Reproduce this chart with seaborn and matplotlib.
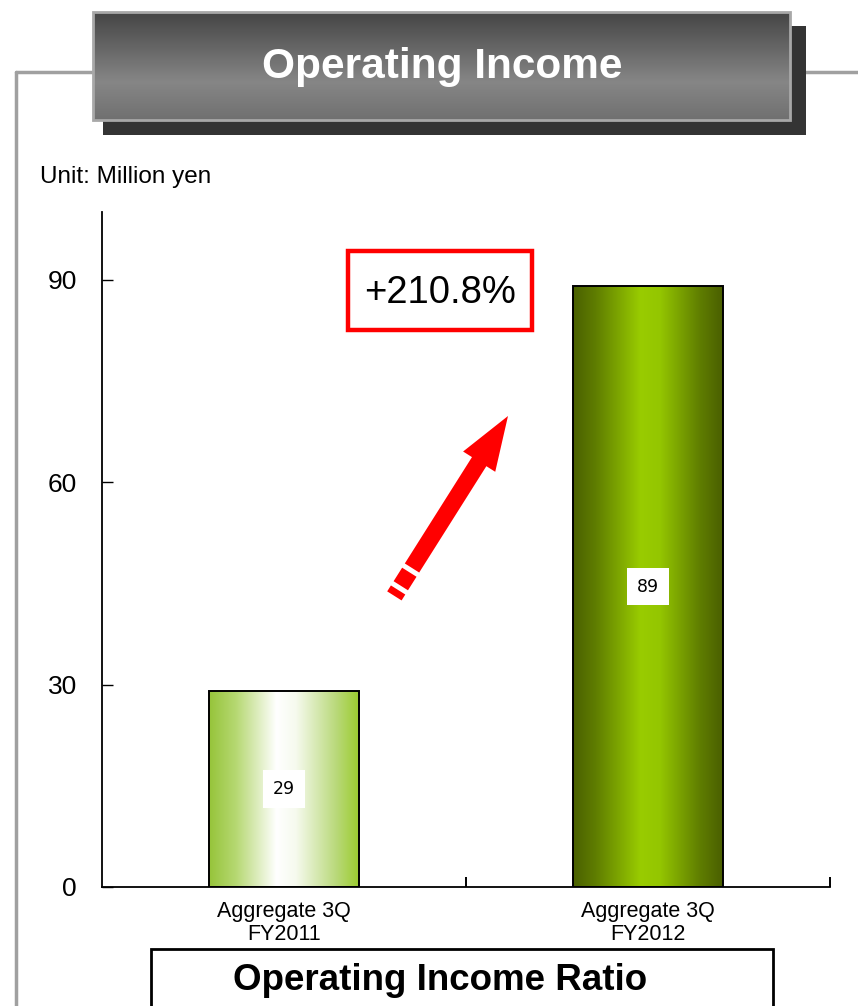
import numpy as np
import matplotlib
matplotlib.use("Agg")
import matplotlib.pyplot as plt
from matplotlib.colors import LinearSegmentedColormap
from matplotlib.patches import Rectangle, Polygon
from matplotlib.lines import Line2D
import seaborn as sns

# ---- data ----
categories = ["Aggregate 3Q\nFY2011", "Aggregate 3Q\nFY2012"]
values = [29, 89]
value_labels = ["29", "89"]
y_ticks = [0, 30, 60, 90]
growth_label = "+210.8%"
title = "Operating Income"
unit_label = "Unit: Million yen"
next_title = "Operating Income Ratio"

# bar fills: horizontal gradients (edge -> highlight -> edge)
bar_gradients = [
    [(0.0, "#96c43a"), (0.18, "#b6d872"), (0.45, "#ffffff"), (0.58, "#f6faee"),
     (0.85, "#b9d97a"), (1.0, "#9ccc30")],
    [(0.0, "#4a6000"), (0.15, "#5f7d00"), (0.45, "#99cc00"), (0.58, "#94c600"),
     (0.85, "#5f7d00"), (1.0, "#4a5f00")],
]

W, H = 858, 1006
sns.set_theme(style="white")
plt.rcParams["font.family"] = ["Liberation Sans", "DejaVu Sans"]
plt.rcParams["text.color"] = "black"
plt.rcParams["xtick.color"] = "black"
plt.rcParams["ytick.color"] = "black"

fig = plt.figure(figsize=(W / 100, H / 100), dpi=100)
fig.patch.set_facecolor("white")


def fx(x):
    return x / W


def fy(y):
    return 1 - y / H


def frect(x0, y0, x1, y1, **kw):
    return Rectangle((fx(x0), fy(y1)), (x1 - x0) / W, (y1 - y0) / H,
                     transform=fig.transFigure, **kw)


# ---- main bar chart ----
ax = fig.add_axes([fx(102), fy(887), (830 - 102) / W, (887 - 212) / H])
sns.barplot(x=categories, y=values, ax=ax, width=0.41, color="#99cc00",
            edgecolor="black", linewidth=1.4)
ax.set_xlim(-0.5, 1.5)
ax.set_ylim(0, 100)
ax.set_yticks(y_ticks)
ax.set_yticklabels([str(t) for t in y_ticks], fontsize=19, color="black")
ax.set_xticks([0, 1])
ax.set_xticklabels(categories, fontsize=15.5, linespacing=1.12, color="black")
ax.set_xticks([0.5, 1.5], minor=True)
ax.tick_params(axis="x", which="major", length=0, pad=10)
ax.tick_params(axis="x", which="minor", direction="in", length=7,
               width=1.4, color="black", bottom=True)
ax.tick_params(axis="y", direction="in", length=8, width=1.0,
               color="black", left=True, pad=18)
ax.set_xlabel("")
ax.set_ylabel("")
for side in ("top", "right"):
    ax.spines[side].set_visible(False)
for side in ("left", "bottom"):
    ax.spines[side].set_color("black")
    ax.spines[side].set_linewidth(1.3)

# gradient fills clipped to each bar
for patch, stops in zip(ax.patches, bar_gradients):
    cmap = LinearSegmentedColormap.from_list("bar", stops)
    x0, y0 = patch.get_x(), patch.get_y()
    w, h = patch.get_width(), patch.get_height()
    grad = np.linspace(0, 1, 256).reshape(1, -1)
    im = ax.imshow(grad, cmap=cmap, aspect="auto",
                   extent=(x0, x0 + w, y0, y0 + h), zorder=patch.get_zorder() - 0.1)
    im.set_clip_path(patch)
    patch.set_facecolor("none")
ax.set_xlim(-0.5, 1.5)
ax.set_ylim(0, 100)

# value labels at mid-height of each bar
for i, (v, lab) in enumerate(zip(values, value_labels)):
    ax.text(i, v / 2, lab, ha="center", va="center", fontsize=12.5,
            family="DejaVu Sans", color="black", zorder=5,
            bbox=dict(facecolor="white", edgecolor="none", pad=7))

# ---- frame lines ----
frame_kw = dict(color="#a0a0a0", linewidth=2.5, transform=fig.transFigure)
fig.add_artist(Line2D([fx(16), fx(16)], [fy(72), fy(1010)], **frame_kw))
fig.add_artist(Line2D([fx(16), fx(100)], [fy(72), fy(72)], **frame_kw))
fig.add_artist(Line2D([fx(800), fx(860)], [fy(72), fy(72)], **frame_kw))

# ---- title banner ----
fig.add_artist(frect(103, 26, 806, 135, facecolor="#343434", edgecolor="none",
                     zorder=2))
tax = fig.add_axes([fx(93), fy(120), (790 - 93) / W, (120 - 12) / H], zorder=3)
title_cmap = LinearSegmentedColormap.from_list(
    "title", [(0.0, "#444444"), (0.65, "#868686"), (1.0, "#707070")])
tax.imshow(np.linspace(0, 1, 256).reshape(-1, 1), cmap=title_cmap,
           aspect="auto", extent=(0, 1, 0, 1), origin="upper")
tax.set_axis_off()
fig.add_artist(frect(93, 12, 790, 120, facecolor="none", edgecolor="#a8a8a8",
                     linewidth=2, zorder=4))
fig.text(fx(442), fy(67), title, ha="center", va="center", fontsize=30.5,
         fontweight="bold", color="white", zorder=5)

fig.text(fx(40), fy(177), unit_label, ha="left", va="center", fontsize=17.5,
         color="black")

# ---- growth callout ----
fig.add_artist(frect(348, 251, 532, 330, facecolor="white", edgecolor="#ff0000",
                     linewidth=3.2, zorder=6))
fig.text(fx(440), fy(293), growth_label, ha="center", va="center", fontsize=27.5,
         color="black", zorder=7)

# arrow pointing up to the larger bar
tail = np.array([412.0, 568.0])
tip = np.array([508.0, 416.0])
u = (tip - tail) / np.linalg.norm(tip - tail)
n = np.array([-u[1], u[0]])
head_len, head_w, shaft_w = 54.0, 38.0, 17.0
base = tip - u * head_len


def to_fig(pts):
    return [(fx(p[0]), fy(p[1])) for p in pts]


arrow_pts = [tail + n * shaft_w / 2, base + n * shaft_w / 2, base + n * head_w / 2,
             tip, base - n * head_w / 2, base - n * shaft_w / 2,
             tail - n * shaft_w / 2]
fig.add_artist(Polygon(to_fig(arrow_pts), closed=True, facecolor="#ff0000",
                       edgecolor="none", transform=fig.transFigure, zorder=6))
for s0, s1 in [(5.0, 21.0), (26.0, 33.0)]:
    a, b = tail - u * s0, tail - u * s1
    pts = [a + n * shaft_w / 2, b + n * shaft_w / 2, b - n * shaft_w / 2,
           a - n * shaft_w / 2]
    fig.add_artist(Polygon(to_fig(pts), closed=True, facecolor="#ff0000",
                           edgecolor="none", transform=fig.transFigure, zorder=6))

# ---- next section header ----
fig.add_artist(frect(151, 949, 773, 1012, facecolor="white", edgecolor="black",
                     linewidth=2, zorder=6))
fig.text(fx(440), fy(981), next_title, ha="center", va="center", fontsize=26.5,
         fontweight="bold", color="black", zorder=7)

fig.savefig("out.png", dpi=100, facecolor="white")
